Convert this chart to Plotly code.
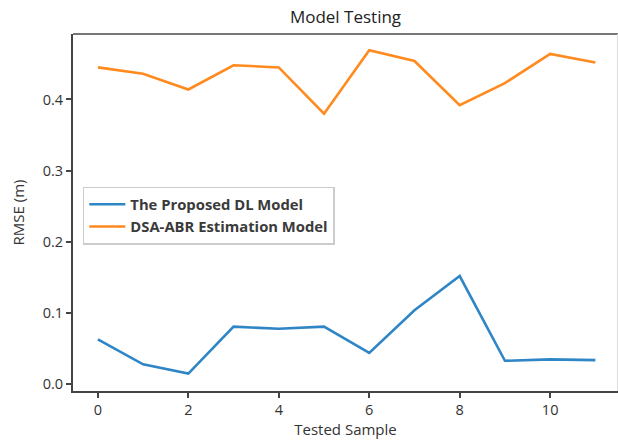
import plotly.graph_objects as go

samples = list(range(12))
proposed_dl = [0.063, 0.028, 0.015, 0.081, 0.078, 0.081, 0.044, 0.104, 0.152, 0.033, 0.035, 0.034]
dsa_abr = [0.445, 0.436, 0.414, 0.448, 0.445, 0.380, 0.469, 0.454, 0.392, 0.423, 0.464, 0.452]
x_ticks = [0, 2, 4, 6, 8, 10]
y_ticks = [0.0, 0.1, 0.2, 0.3, 0.4]

fig = go.Figure()
fig.add_trace(go.Scatter(x=samples, y=proposed_dl, mode="lines",
                         name="<b>The Proposed DL Model</b>",
                         line=dict(color="#2f86c6", width=2.6)))
fig.add_trace(go.Scatter(x=samples, y=dsa_abr, mode="lines",
                         name="<b>DSA-ABR Estimation Model</b>",
                         line=dict(color="#ff8a1e", width=2.6)))

font_family = "Open Sans, DejaVu Sans, sans-serif"
fig.update_layout(
    width=618, height=443,
    margin=dict(l=73, r=0, t=34, b=52),
    paper_bgcolor="white", plot_bgcolor="white",
    font=dict(family=font_family, color="#333333", size=14.5),
    title=dict(text="Model Testing", x=0.5, xanchor="center", xref="paper",
               y=0.962, yanchor="middle", font=dict(size=17, color="#222222")),
    showlegend=True,
    legend=dict(x=0.018, y=0.5725, xanchor="left", yanchor="top",
                bgcolor="white", bordercolor="#cccccc", borderwidth=1.5,
                font=dict(size=14.8, color="#3a3a3a"),
                tracegroupgap=0, itemwidth=36),
    xaxis=dict(range=[-0.55, 11.5], tickvals=x_ticks, showgrid=False, zeroline=False,
               showline=True, linecolor="#444444", linewidth=2,
               ticks="outside", ticklen=5, tickwidth=1.5, tickcolor="#444444",
               title=dict(text="Tested Sample", font=dict(size=15), standoff=4)),
    yaxis=dict(range=[-0.0094, 0.4919], tickvals=y_ticks, tickformat=".1f",
               showgrid=False, zeroline=False,
               showline=True, linecolor="#444444", linewidth=2,
               ticks="outside", ticklen=5, tickwidth=1.5, tickcolor="#444444",
               title=dict(text="RMSE (m)", font=dict(size=15), standoff=14)),
    shapes=[dict(type="line", xref="paper", yref="paper", x0=0, x1=1, y0=1, y1=1,
                 line=dict(color="#777777", width=2)),
            dict(type="line", xref="paper", yref="paper", x0=0.999, x1=0.999, y0=0, y1=1,
                 line=dict(color="#dddddd", width=1))],
)

fig.write_html("out.html", config={"displayModeBar": False},
               post_script="document.body.style.margin='0';document.body.style.overflow='hidden';")
